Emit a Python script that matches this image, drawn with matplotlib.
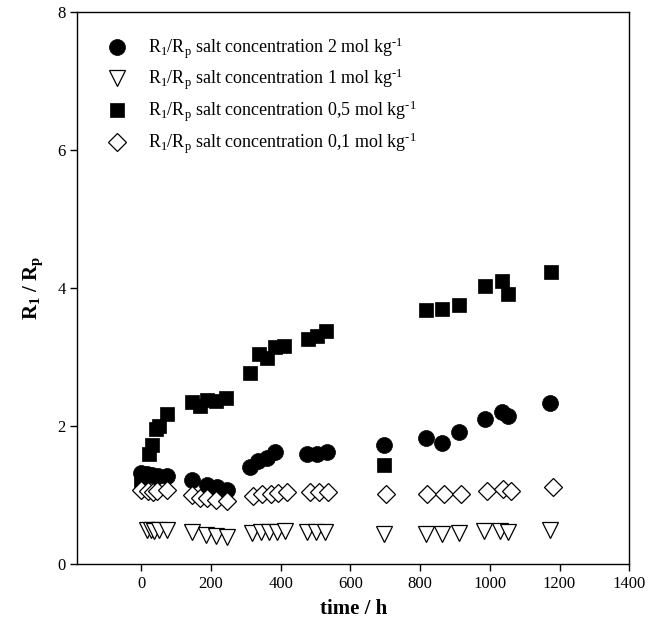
import matplotlib
matplotlib.use("Agg")
import matplotlib.pyplot as plt

plt.rcParams["font.family"] = ["Liberation Serif", "DejaVu Serif"]
plt.rcParams["mathtext.fontset"] = "custom"
plt.rcParams["mathtext.rm"] = "Liberation Serif"
plt.rcParams["mathtext.it"] = "Liberation Serif:italic"
plt.rcParams["mathtext.bf"] = "Liberation Serif:bold"

# 2 mol/kg (filled circles)
t_2 = [0, 18, 30, 48, 75, 145, 190, 219, 246, 312, 335, 362, 384,
       475, 504, 532, 697, 816, 862, 912, 986, 1034, 1053, 1173]
r_2 = [1.32, 1.30, 1.29, 1.27, 1.28, 1.22, 1.15, 1.11, 1.07, 1.41, 1.49, 1.54, 1.63,
       1.59, 1.59, 1.63, 1.72, 1.83, 1.75, 1.92, 2.10, 2.20, 2.14, 2.33]

# 1 mol/kg (open triangles)
t_1 = [18, 28, 38, 50, 75, 145, 185, 215, 245, 318, 343, 367, 390, 413,
       475, 502, 527, 697, 816, 862, 912, 984, 1030, 1053, 1173]
r_1 = [0.50, 0.49, 0.48, 0.50, 0.50, 0.46, 0.42, 0.41, 0.39, 0.45, 0.46, 0.46, 0.47, 0.48,
       0.46, 0.46, 0.46, 0.44, 0.44, 0.44, 0.45, 0.48, 0.48, 0.47, 0.50]

# 0,5 mol/kg (filled squares)
t_05 = [0, 22, 30, 42, 50, 74, 146, 170, 190, 215, 244, 312, 339, 362, 384, 410,
        480, 505, 530, 697, 817, 862, 912, 986, 1034, 1053, 1175]
r_05 = [1.22, 1.60, 1.72, 1.95, 2.00, 2.18, 2.35, 2.29, 2.37, 2.36, 2.41, 2.77, 3.04, 2.99, 3.14, 3.16,
        3.26, 3.30, 3.37, 1.43, 3.68, 3.70, 3.76, 4.03, 4.10, 3.92, 4.23]

# 0,1 mol/kg (open diamonds)
t_01 = [0, 20, 33, 45, 74, 145, 169, 190, 215, 246, 320, 348, 372, 394, 419,
        485, 510, 536, 702, 821, 868, 917, 993, 1039, 1060, 1180]
r_01 = [1.08, 1.06, 1.05, 1.06, 1.08, 1.00, 0.96, 0.95, 0.93, 0.91, 0.99, 1.02, 1.02, 1.03, 1.04,
        1.05, 1.04, 1.05, 1.02, 1.02, 1.02, 1.02, 1.06, 1.09, 1.06, 1.12]

labels = [
    r"R$_\mathrm{1}$/R$_\mathrm{p}$ salt concentration 2 mol kg$^\text{-1}$",
    r"R$_\mathrm{1}$/R$_\mathrm{p}$ salt concentration 1 mol kg$^\text{-1}$",
    r"R$_\mathrm{1}$/R$_\mathrm{p}$ salt concentration 0,5 mol kg$^\text{-1}$",
    r"R$_\mathrm{1}$/R$_\mathrm{p}$ salt concentration 0,1 mol kg$^\text{-1}$",
]

fig = plt.figure(figsize=(6.48, 6.26), dpi=100)
ax = fig.add_axes([0.1193, 0.099, 0.8518, 0.8818])

ax.plot(t_2, r_2, "o", ms=11.5, mfc="black", mec="black", mew=0.5, ls="none", label=labels[0])
ax.plot(t_1, r_1, "v", ms=11, mfc="white", mec="black", mew=0.9, ls="none", label=labels[1])
ax.plot(t_05, r_05, "s", ms=10.5, mfc="black", mec="black", mew=0.5, ls="none", label=labels[2])
ax.plot(t_01, r_01, "D", ms=9, mfc="white", mec="black", mew=0.9, ls="none", label=labels[3])

ax.set_xlim(-183, 1400)
ax.set_ylim(0, 8)
ax.set_xticks(range(0, 1401, 200))
ax.set_yticks([0, 2, 4, 6, 8])
ax.tick_params(direction="out", length=5, width=1, labelsize=12, top=False, right=False)
for s in ax.spines.values():
    s.set_linewidth(1)

ax.set_xlabel("time / h", fontsize=15, fontweight="bold", labelpad=5)
ax.set_ylabel(r"R$_\mathbf{1}$ / R$_\mathbf{p}$", fontsize=15, fontweight="bold", labelpad=9)

ax.legend(loc="upper left", bbox_to_anchor=(0.0055, 1.0), frameon=False, fontsize=13,
          handletextpad=0.97, labelspacing=0.35, borderaxespad=0.9, handlelength=1.5)

fig.savefig("out.png", dpi=100)
